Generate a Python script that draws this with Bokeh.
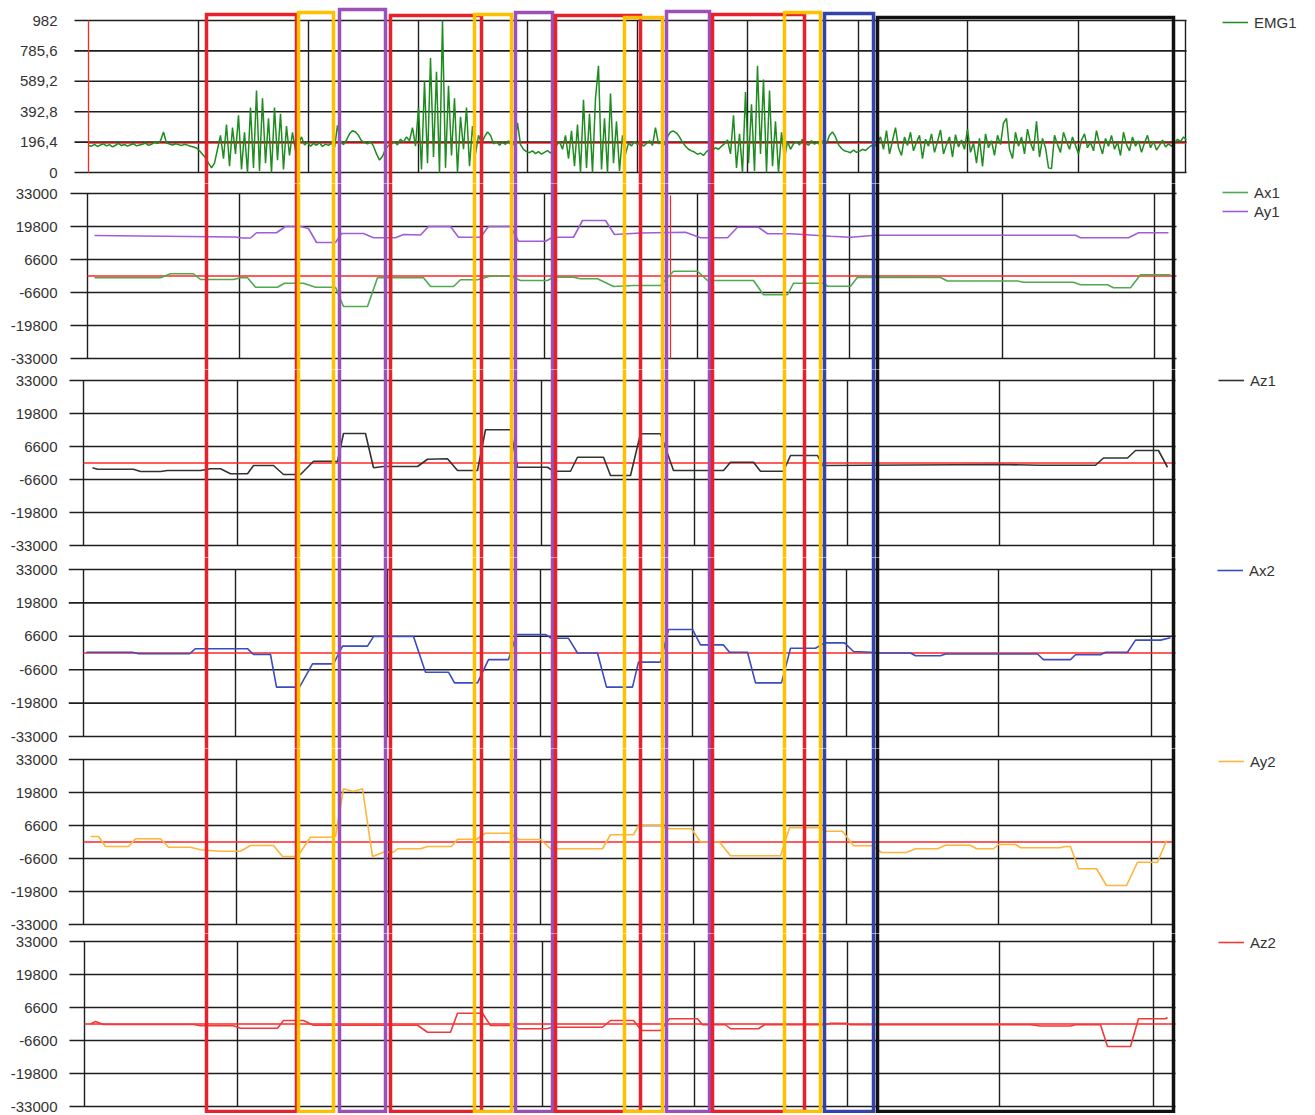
import numpy as np
from bokeh.plotting import figure
from bokeh.layouts import column
from bokeh.models import Range1d, FixedTicker, Legend, LegendItem, CustomJSTickFormatter
from bokeh.embed import file_html
from bokeh.resources import INLINE

# ======================= DATA (x = sample index) =======================
EMG_STEP = 3  # one EMG value every 3 samples, starting at sample 0
EMG1 = [
    175, 170, 182, 168, 178, 185, 172, 180, 166, 176, 188, 174, 181, 170, 179, 186, 172, 178, 183, 190,
    175, 182, 196, 188, 205, 262, 190, 184, 178, 186, 180, 174, 183, 177, 170, 165, 158,
    140, 118, 95, 60, 30, 60,
    150, 240, 90, 310, 40, 290, 120, 370, 20, 260, 0, 420, 30, 530, 10, 480, 60, 350, 0, 420,
    80, 380, 20, 300, 110, 260, 140,
    185, 230, 178, 195, 170, 188, 176, 192, 168, 183, 175, 190, 160, 305, 200,
    180, 210, 250, 270, 262, 240, 205, 195, 185, 200, 170, 120, 80, 105, 150, 175,
    185, 200, 178, 215, 196, 230, 205, 290, 170,
    420, 20, 590, 60, 740, 100, 650, 0, 982, 30, 560, 110, 480, 0, 360, 150, 420, 40, 300, 120, 240,
    190, 230, 262, 240, 185, 200, 176, 195, 182, 205, 170, 190, 320,
    180, 150, 135, 128, 140, 122, 135, 118, 130, 142, 125, 150, 175,
    200, 150, 240, 90, 270, 40, 310, 0, 470, 30, 380, 0, 480, 690, 20, 350, 0, 510, 60, 330, 10, 240, 120,
    190, 172, 200, 180, 195, 170, 188, 205, 175, 290, 185, 196, 180, 230, 262,
    268, 255, 230, 195, 170, 150, 140, 132, 118, 125, 110, 135, 150, 142, 160, 150, 170, 185,
    210, 120, 370, 30, 250, 0, 520, 60, 440, 10, 690, 120, 600, 0, 530, 40, 330, 0, 260, 90, 200, 150,
    185, 200, 178, 215, 190, 176, 205, 183, 195, 172, 210, 188, 240, 262, 230, 180, 155, 140, 135, 128,
    145, 130, 138, 150, 142, 160, 175, 168, 190,
    230, 150, 270, 120, 205, 290, 160, 110, 230, 175,
    260, 140, 195, 240, 90, 215, 170, 250, 130, 200,
    275, 120, 180, 230, 100, 245, 165, 210, 150, 280,
    130, 190, 60, 220, 40, 250, 160, 205, 110, 240,
    180, 320, 350, 150, 90, 260, 170, 230, 120, 280,
    190, 140, 330, 100, 220, 160, 30, 25, 240, 180,
    130, 260, 200, 150, 230, 175, 120, 210, 250, 160,
    195, 140, 270, 185, 120, 220, 170, 240, 150, 195,
    110, 260, 180, 140, 230, 170, 205, 130, 190, 240,
    160, 200, 145, 175, 210, 165, 185, 170,
    190, 215, 200, 230, 210,
]

AX1_T = [6, 72, 82, 105, 112, 145, 152, 159, 167, 189, 196, 215, 227, 247, 255, 279, 289, 335, 342, 365,
         372, 389, 402, 422, 432, 459, 465, 485, 492, 509, 525, 545, 572, 585, 609, 619, 665, 675, 699, 705,
         735, 739, 762, 769, 852, 859, 929, 935, 985, 992, 1019, 1025, 1042, 1052, 1082]
AX1 = [-700, -700, 900, 900, -1400, -1400, -700, -700, -4500, -4500, -2900, -2900, -4500, -4500, -12200, -12200,
       -700, -700, -4200, -4200, -1500, -1500, 0, 0, -1800, -1800, -500, -500, -1100, -1100, -4200, -3800, -3800,
       1900, 1900, -1800, -1800, -7500, -7500, -2900, -2900, -4100, -4100, -500, -600, -2000, -2000, -2500, -2500,
       -3500, -3500, -4700, -4700, 500, 500]

AY1_T = [6, 52, 147, 154, 162, 168, 188, 197, 212, 220, 228, 247, 253, 275, 285, 307, 315, 332, 340, 362,
         370, 392, 400, 422, 430, 457, 464, 485, 494, 517, 526, 552, 597, 612, 639, 649, 670, 679, 702, 742,
         762, 787, 987, 992, 1040, 1050, 1080]
AY1 = [16200, 16000, 15600, 15200, 15200, 17300, 17300, 19800, 19800, 19000, 13400, 13400, 17000, 17000, 15300,
       15300, 16600, 16400, 19800, 19800, 15500, 15500, 19800, 19800, 13900, 13900, 15500, 15500, 22200, 22200,
       16600, 17200, 17500, 15300, 15300, 19500, 19500, 16900, 16900, 15900, 15500, 16300, 16300, 15300, 15300,
       17300, 17300]

AZ1_T = [4, 9, 45, 52, 72, 79, 112, 122, 132, 142, 159, 165, 185, 195, 212, 225, 242, 249, 255, 277,
         285, 295, 329, 339, 359, 369, 389, 397, 422, 429, 459, 465, 482, 489, 515, 522, 542, 552, 572, 585,
         635, 642, 665, 672, 695, 702, 729, 734, 912, 952, 1007, 1015, 1039, 1047, 1070, 1079]
AZ1 = [-1900, -2500, -2500, -3400, -3400, -3000, -3000, -2300, -2300, -4300, -4300, -1000, -1000, -4600, -4600,
       700, 700, 600, 11800, 11800, -1900, -1400, -1400, 1500, 1700, -3000, -3000, 13300, 13300, -1700, -1700,
       -3300, -3300, 2300, 2300, -5000, -5000, 11700, 11700, -3000, -3000, 300, 300, -3300, -3300, 3000, 3000,
       -1000, -600, -900, -900, 2000, 2000, 5000, 5000, -1700]

AX2_T = [-2, 44, 50, 101, 107, 159, 165, 182, 188, 211, 224, 245, 254, 279, 285, 325, 337, 360, 366, 389,
         400, 420, 428, 457, 463, 480, 489, 509, 518, 544, 550, 572, 580, 604, 612, 635, 641, 659, 667, 693,
         702, 727, 736, 756, 765, 782, 792, 822, 827, 852, 857, 949, 955, 982, 987, 1012, 1017, 1039, 1047,
         1072, 1082]
AX2 = [300, 300, -300, -300, 1700, 1700, -600, -600, -13500, -13500, -4300, -4300, 2700, 2700, 6500, 6500,
       -7600, -7600, -11800, -11800, -2600, -2600, 7300, 7300, 5800, 5800, 0, 0, -13500, -13500, -3600, -3600,
       9300, 9300, 3200, 3200, 300, 300, -11800, -11800, 1900, 1900, 4000, 4000, 600, 300, 0, 0, -1100, -1100,
       -400, -400, -2600, -2600, -700, -700, 300, 300, 5100, 5100, 6000]

AY2_T = [2, 10, 17, 40, 47, 72, 80, 102, 112, 132, 152, 162, 185, 194, 209, 222, 242, 247, 255, 265,
         274, 284, 295, 305, 309, 332, 339, 363, 369, 388, 397, 422, 430, 452, 462, 514, 522, 545, 550, 572,
         578, 603, 612, 631, 642, 692, 701, 731, 737, 754, 765, 784, 793, 818, 827, 849, 857, 882, 888, 905,
         910, 927, 932, 971, 977, 982, 990, 1008, 1018, 1038, 1049, 1069, 1078]
AY2 = [2200, 2200, -1800, -1800, 1300, 1300, -2100, -2100, -3100, -3700, -3700, -1400, -1400, -5800, -5800,
       1900, 1900, 2300, 21300, 20200, 21300, -5800, -4100, -4100, -2700, -2700, -1800, -1800, 1100, 1100,
       3500, 3500, 1000, 1000, -2700, -2700, 2900, 2900, 6600, 6600, 5300, 5300, 0, 0, -5500, -5500, 5700,
       5700, 4300, 4300, -1500, -1500, -4200, -4200, -2700, -2700, -1300, -1300, -2700, -2700, -1000, -1000,
       -2300, -2300, -1800, -1800, -10700, -10700, -17400, -17400, -8100, -8100, 600]

AZ2_T = [2, 7, 15, 105, 112, 145, 152, 189, 195, 215, 225, 329, 339, 362, 369, 394, 402, 422, 430, 458,
         464, 514, 522, 545, 553, 572, 581, 609, 614, 637, 642, 670, 676, 737, 742, 757, 762, 942, 952, 982,
         987, 1012, 1019, 1042, 1050, 1077, 1079]
AZ2 = [0, 1000, -200, -200, -700, -700, -1700, -1700, 1400, 1400, -500, -500, -3300, -3300, 4300, 4300,
       -600, -600, -1900, -1900, -1300, -1300, 1400, 1400, -2600, -2600, 2100, 2100, -300, -300, -1900, -1900,
       -300, -300, 300, 300, -300, -300, -800, -800, -300, -300, -9000, -9000, 2100, 2100, 2600]

EMG_TICKS = [0, 196.4, 392.8, 589.2, 785.6, 982]
ACC_TICKS = [-33000, -19800, -6600, 6600, 19800, 33000]
EMG_REF = 190
ACC_REF = 0
CURSOR_T = 582

# marked segments of the recording (sample index)
SEG_START = [118, 210, 251, 302, 386, 427, 467, 536, 578, 624, 696, 736, 789]
SEG_END = [208, 245, 297, 393, 423, 464, 552, 574, 621, 716, 732, 785, 1085]
SEG_KIND = ["red", "yellow", "purple", "red", "yellow", "purple", "red", "yellow", "purple",
            "red", "yellow", "blue", "black"]

# ======================= LAYOUT / STYLE =======================
W = 1310
BORDER_L = 68                            # page x of the frame's left edge
X_START = -20                            # sample index at the frame's left edge
X_END = X_START + (W - BORDER_L)         # 1 px per sample; right part hosts the legends
FIG_EDGES_PX = [0, 183, 369, 557, 748, 933, 1113]       # page y of figure edges
SEG_TOP_PX = [14, 12, 9, 15, 14, 12, 15, 17, 11, 14, 12, 13, 17]
SEG_BOTTOM_PX = 1111
SEG_COLORS = {"red": "#e8212b", "yellow": "#ffc000", "purple": "#9b4fb8",
              "blue": "#3443a8", "black": "#111111"}
FONT = "Liberation Sans"
GRID_COLOR = "#1e1e1e"
REF_COLOR = "#ff2626"

emg_t = np.arange(len(EMG1)) * EMG_STEP

PANELS = [
    dict(series=[("EMG1", emg_t, EMG1, "#1e8c1e")], ticks=EMG_TICKS, ref=EMG_REF,
         hi_px=20, lo_px=172, vgrid=[110, 220, 330, 439, 549, 659, 770, 879, 990, 1097],
         left_line=0, hx=(-14, 1098), leg_y=22, leg_px=1222),
    dict(series=[("Ax1", AX1_T, AX1, "#4daa4d"), ("Ay1", AY1_T, AY1, "#a35bd8")], ticks=ACC_TICKS,
         ref=ACC_REF, hi_px=193, lo_px=358, vgrid=[-1, 151, 303, 456, 609, 761, 914, 1066],
         left_line=-1, hx=(-18, 1088), leg_y=192, leg_px=1222),
    dict(series=[("Az1", AZ1_T, AZ1, "#333333")], ticks=ACC_TICKS, ref=ACC_REF,
         hi_px=380, lo_px=545, vgrid=[-5, 149, 302, 453, 606, 759, 911, 1065],
         left_line=-5, hx=(-19, 1087), leg_y=380, leg_px=1218),
    dict(series=[("Ax2", AX2_T, AX2, "#3b4cc0")], ticks=ACC_TICKS, ref=ACC_REF,
         hi_px=569, lo_px=736, vgrid=[-5, 147, 299, 452, 604, 758, 910, 1063],
         left_line=-5, hx=(-20, 1087), leg_y=570, leg_px=1217),
    dict(series=[("Ay2", AY2_T, AY2, "#ffb43a")], ticks=ACC_TICKS, ref=ACC_REF,
         hi_px=759, lo_px=924, vgrid=[-5, 148, 300, 452, 605, 758, 910, 1063],
         left_line=-5, hx=(-20, 1085), leg_y=761, leg_px=1218),
    dict(series=[("Az2", AZ2_T, AZ2, "#f03a3a")], ticks=ACC_TICKS, ref=ACC_REF,
         hi_px=941, lo_px=1106, vgrid=[-4, 149, 302, 454, 606, 759, 911, 1065],
         left_line=-4, hx=(-19, 1087), leg_y=941, leg_px=1218),
]

fmt_code = "return String(Math.round(tick*10)/10).replace('.', ',');"

x_range = Range1d(X_START, X_END)
figs = []
last = len(PANELS) - 1
for i, spec in enumerate(PANELS):
    top_px, bot_px = FIG_EDGES_PX[i], FIG_EDGES_PX[i + 1]
    h = bot_px - top_px
    hi_val, lo_val = max(spec["ticks"]), min(spec["ticks"])
    k = (hi_val - lo_val) / (spec["lo_px"] - spec["hi_px"])

    def val(py, hi_val=hi_val, k=k, hi_px=spec["hi_px"]):
        return hi_val + (hi_px - py) * k

    y_end, y_start = val(top_px), val(bot_px)
    p = figure(width=W, height=h, x_range=x_range, y_range=Range1d(y_start, y_end),
               x_axis_type=None, toolbar_location=None, output_backend="svg",
               min_border_left=BORDER_L, min_border_right=0,
               min_border_top=0, min_border_bottom=0, outline_line_color=None,
               background_fill_color="white", border_fill_color="white")
    p.grid.visible = False
    ax = p.yaxis[0]
    ax.ticker = FixedTicker(ticks=spec["ticks"])
    ax.formatter = CustomJSTickFormatter(code=fmt_code)
    ax.axis_line_color = None
    ax.major_tick_line_color = None
    ax.minor_tick_line_color = None
    ax.major_label_standoff = 5
    ax.major_label_text_font = FONT
    ax.major_label_text_font_size = "15px"
    ax.major_label_text_color = "#333333"

    # grid lines
    hx0, hx1 = spec["hx"]
    tk = spec["ticks"]
    p.segment(x0=[hx0] * len(tk), y0=tk, x1=[hx1] * len(tk), y1=tk,
              line_color=GRID_COLOR, line_width=1.6)
    vg = spec["vgrid"]
    p.segment(x0=vg, y0=[lo_val] * len(vg), x1=vg, y1=[hi_val] * len(vg),
              line_color=GRID_COLOR, line_width=1.4)
    # reference line
    p.segment(x0=[spec["left_line"]], y0=[spec["ref"]], x1=[hx1], y1=[spec["ref"]],
              line_color=REF_COLOR, line_width=1.3)
    if i == 0:
        p.segment(x0=[0], y0=[lo_val], x1=[0], y1=[hi_val], line_color=REF_COLOR, line_width=1.3)
    if i == 1:
        p.segment(x0=[CURSOR_T], y0=[lo_val], x1=[CURSOR_T], y1=[val(195)],
                  line_color=REF_COLOR, line_width=1.2)

    items = []
    for label, t, y, color in spec["series"]:
        r = p.line(list(t), list(y), line_color=color, line_width=1.6 if i else 1.5)
        items.append(LegendItem(label=label, renderers=[r]))

    # marked segment outlines
    ext = 4 * k
    for l, r_, kind, tpx in zip(SEG_START, SEG_END, SEG_KIND, SEG_TOP_PX):
        c = SEG_COLORS[kind]
        if i == 0:
            yt = val(tpx)
            p.line([l, l, r_, r_], [y_start - ext, yt, yt, y_start - ext], line_color=c,
                   line_width=3.5, line_join="miter")
        elif i == last:
            yb = val(SEG_BOTTOM_PX)
            p.line([l, l, r_, r_], [y_end + ext, yb, yb, y_end + ext], line_color=c,
                   line_width=3.5, line_join="miter")
        else:
            p.segment(x0=[l, r_], y0=[y_start - ext] * 2, x1=[l, r_], y1=[y_end + ext] * 2,
                      line_color=c, line_width=3.5)

    n = len(items)
    leg_h = n * 18 + (n - 1) * 1
    leg_top = max(spec["leg_y"] - 9 - top_px, 0)
    legend = Legend(items=items, location=(spec["leg_px"] - BORDER_L, h - leg_top - leg_h),
                    border_line_color=None, background_fill_alpha=0, padding=0, margin=0,
                    spacing=1, glyph_width=26, glyph_height=18, label_height=18,
                    label_standoff=6, label_text_font=FONT, label_text_font_size="15px",
                    label_text_color="#333333")
    p.add_layout(legend)
    figs.append(p)

layout = column(*figs, spacing=0)
open("out.html", "w").write(file_html(layout, INLINE))
